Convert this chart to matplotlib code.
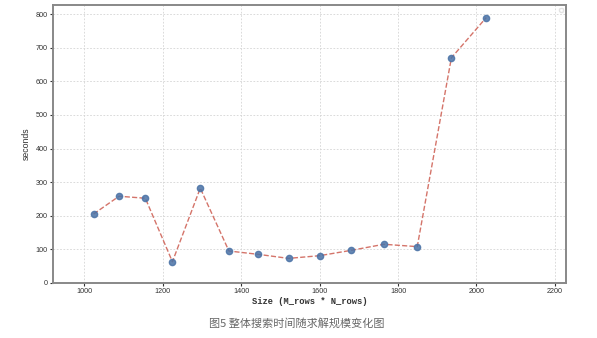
import matplotlib.pyplot as plt

# Tamaño del problema (M_rows * N_rows) y tiempo de busqueda
sizes = [1024, 1089, 1156, 1225, 1296, 1369, 1444, 1521, 1600, 1681, 1764, 1849, 1936, 2025]
seconds = [205, 258, 252, 63, 282, 95, 85, 73, 81, 97, 115, 108, 670, 790]
xticks = [1000, 1200, 1400, 1600, 1800, 2000, 2200]
yticks = [0, 100, 200, 300, 400, 500, 600, 700, 800]
caption = "图5 整体搜索时间随求解规模变化图"

fig = plt.figure(figsize=(5.97, 3.38), dpi=100)
ax = fig.add_axes([0.089, 0.163, 0.859, 0.822])

ax.plot(sizes, seconds, linestyle='--', color='#cd5c50', alpha=0.85, linewidth=1.0,
        marker='o', markersize=4.5, markerfacecolor='#4a72a6', markeredgecolor='#4a72a6')

ax.set_xlim(921, 2228)
ax.set_ylim(0, 827)
ax.set_xticks(xticks)
ax.set_yticks(yticks)
ax.tick_params(labelsize=5.2, colors='#333333', length=2, pad=2)
for lbl in ax.get_xticklabels() + ax.get_yticklabels():
    lbl.set_family('Liberation Sans')
ax.grid(True, linestyle=(0, (2, 2)), color='#d4d4d4', linewidth=0.6)

for s in ax.spines.values():
    s.set_color('#888888')
    s.set_linewidth(1.4)

ax.set_xlabel("Size (M_rows * N_rows)", family='Liberation Mono', fontsize=6.3,
              fontweight='bold', color='#333333', labelpad=1)
ax.set_ylabel("seconds", family='Liberation Sans', fontsize=6.3, color='#333333', labelpad=3)

# Leyenda vacia en la esquina superior derecha
leg = ax.legend(handles=[], loc='upper right', frameon=True, fontsize=6,
                borderpad=0.25, borderaxespad=0.3)
leg.get_frame().set_edgecolor('#dddddd')

fig.text(0.497, 0.043, caption, family=['Noto Sans CJK SC', 'DejaVu Sans'],
         fontsize=8, color='#666666', ha='center', va='center')

fig.savefig('out.png', dpi=100)
